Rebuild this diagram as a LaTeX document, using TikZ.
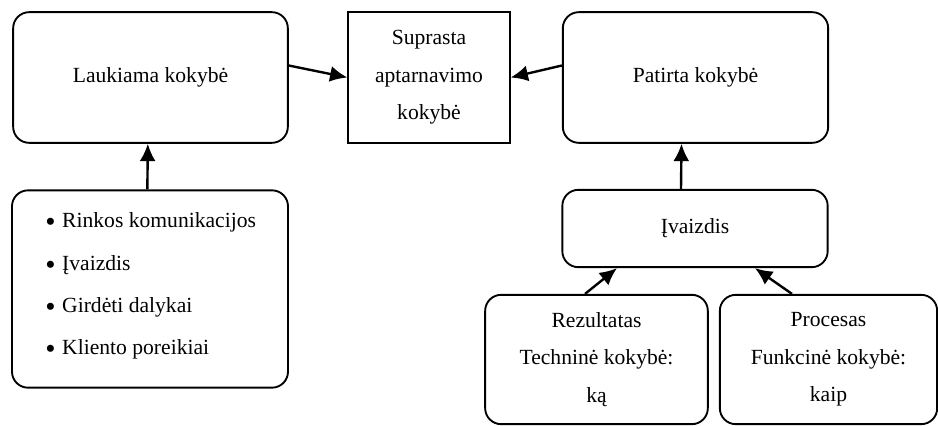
\documentclass[tikz,border=0pt]{standalone}
\usepackage{fontspec}
\setmainfont{Liberation Serif}
\usetikzlibrary{shapes,arrows.meta}
\tikzset{
	soft/.style   = {draw, line width=1.4pt, rectangle, rounded corners=12pt, align=center},
	hard/.style   = {draw, line width=1.4pt, rectangle, align=center},
	item/.style   = {anchor=west, inner sep=0pt},
	link/.style   = {->, line width=1.8pt}
}
\newcommand{\bul}{{\fontsize{22}{22}\selectfont\raisebox{-3.6pt}{\textbullet}}\hspace{5pt}}

\begin{document}
\begin{tikzpicture}[x=0.75pt, y=-0.75pt, >={Latex[length=13pt,width=12pt]},
	font=\fontsize{16.2}{28}\selectfont]
	\useasboundingbox (0,0) rectangle (938,425);
	\draw
	node at (150.5,77.5)[soft, minimum width=206pt, minimum height=98pt] (lauk) {Laukiama kokybė}
	node at (429,77.5)[hard, minimum width=121pt, minimum height=98pt] (supr) {Suprasta\\aptarnavimo\\kokybė}
	node at (695.5,77.5)[soft, minimum width=199pt, minimum height=98pt] (pat) {Patirta kokybė}
	node at (150,289)[soft, minimum width=207pt, minimum height=148pt] (veiks) {}
	node at (695,228.5)[soft, minimum width=199pt, minimum height=58pt] (ivz) {Įvaizdis}
	node at (596.5,359.5)[soft, minimum width=167pt, minimum height=97pt] (rez) {Rezultatas\\Techninė kokybė:\\ką}
	node at (828.5,359.5)[soft, minimum width=163pt, minimum height=97pt] (proc) {Procesas\\Funkcinė kokybė:\\kaip};

	% sarasas
	\node[item] (i1) at (45,222) {\bul Rinkos komunikacijos};
	\node[item] (i2) at (45,265) {\bul Įvaizdis};
	\node[item] (i3) at (45,307) {\bul Girdėti dalykai};
	\node[item] (i4) at (45,349) {\bul Kliento poreikiai};

	\draw[link] ([yshift=9pt]lauk.east) -- (supr.west);
	\draw[link] ([yshift=9pt]pat.west) -- (supr.east);
	\draw[link] ([xshift=-2pt]veiks.north) -- ([xshift=-2pt]lauk.south);
	\draw[link] ([xshift=-10.5pt]ivz.north) -- ([xshift=-10.5pt]pat.south);
	\draw[link] ([xshift=-8.6pt]rez.north) -- ([xshift=-58.5pt]ivz.south);
	\draw[link] ([xshift=-27.4pt]proc.north) -- ([xshift=45pt]ivz.south);
\end{tikzpicture}
\end{document}
